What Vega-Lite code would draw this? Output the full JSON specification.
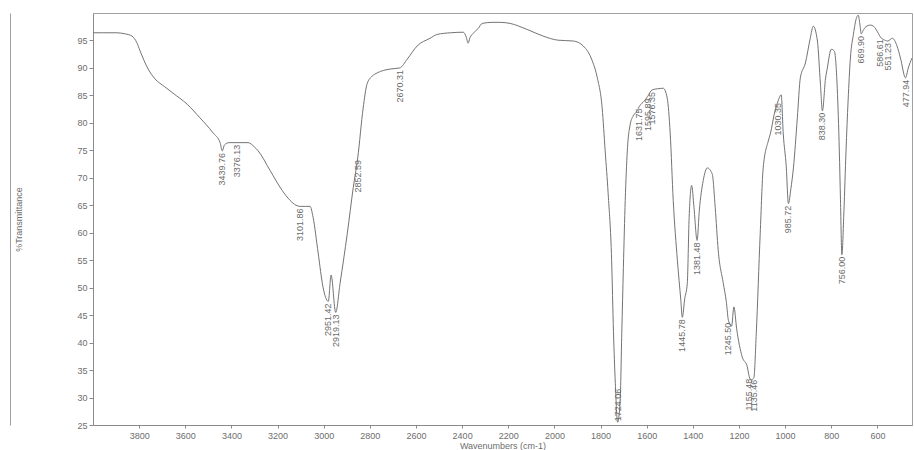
{
  "$schema": "https://vega.github.io/schema/vega-lite/v6.json",
  "width": 819,
  "height": 412,
  "autosize": {"type": "none"},
  "padding": {"left": 93, "top": 13, "right": 2, "bottom": 25},
  "background": "white",
  "config": {
    "view": {"stroke": "#a0a0a0", "strokeWidth": 1},
    "axis": {
      "domainColor": "#8a8a8a",
      "tickColor": "#8a8a8a",
      "labelColor": "#6e6e6e",
      "titleColor": "#6e6e6e",
      "labelFont": "Liberation Sans",
      "titleFont": "Liberation Sans",
      "labelFontSize": 9,
      "titleFontSize": 9,
      "titleFontWeight": "normal",
      "grid": false
    }
  },
  "data": {
    "values": [
      {"wn": 4000, "t": 96.4},
      {"wn": 3960, "t": 96.4},
      {"wn": 3900, "t": 96.4},
      {"wn": 3860, "t": 96.2},
      {"wn": 3831, "t": 95.8},
      {"wn": 3810, "t": 94.6},
      {"wn": 3796, "t": 93.1},
      {"wn": 3761, "t": 89.8},
      {"wn": 3731, "t": 88.0},
      {"wn": 3690, "t": 86.6},
      {"wn": 3653, "t": 85.4},
      {"wn": 3592, "t": 83.4},
      {"wn": 3536, "t": 80.9},
      {"wn": 3480, "t": 78.2},
      {"wn": 3449, "t": 76.4},
      {"wn": 3439.76, "t": 74.9, "label": "3439.76"},
      {"wn": 3430, "t": 76.0},
      {"wn": 3410, "t": 76.4},
      {"wn": 3376.13, "t": 76.4, "label": "3376.13"},
      {"wn": 3328, "t": 76.4},
      {"wn": 3300, "t": 75.6},
      {"wn": 3284, "t": 74.9},
      {"wn": 3232, "t": 71.3},
      {"wn": 3180, "t": 67.7},
      {"wn": 3146, "t": 65.9},
      {"wn": 3120, "t": 65.0},
      {"wn": 3101.86, "t": 64.8, "label": "3101.86"},
      {"wn": 3080, "t": 64.8},
      {"wn": 3059, "t": 64.8},
      {"wn": 3046, "t": 62.8},
      {"wn": 3024, "t": 56.3},
      {"wn": 3003, "t": 50.1},
      {"wn": 2980, "t": 47.5, "label": "2951.42"},
      {"wn": 2968, "t": 52.3},
      {"wn": 2948, "t": 45.5, "label": "2919.13"},
      {"wn": 2929, "t": 50.8},
      {"wn": 2898, "t": 59.8},
      {"wn": 2872, "t": 68.2},
      {"wn": 2852.59, "t": 73.6, "label": "2852.59"},
      {"wn": 2829, "t": 82.7},
      {"wn": 2812, "t": 87.1},
      {"wn": 2790, "t": 88.5},
      {"wn": 2768, "t": 89.1},
      {"wn": 2712, "t": 89.8},
      {"wn": 2670.31, "t": 90.0, "label": "2670.31"},
      {"wn": 2638, "t": 91.6},
      {"wn": 2595, "t": 94.0},
      {"wn": 2539, "t": 95.4},
      {"wn": 2508, "t": 96.1},
      {"wn": 2450, "t": 96.4},
      {"wn": 2395, "t": 96.5},
      {"wn": 2382, "t": 95.6},
      {"wn": 2374, "t": 94.5},
      {"wn": 2366, "t": 95.5},
      {"wn": 2352, "t": 96.3},
      {"wn": 2330, "t": 97.2},
      {"wn": 2313, "t": 98.1},
      {"wn": 2270, "t": 98.3},
      {"wn": 2235, "t": 98.3},
      {"wn": 2192, "t": 98.1},
      {"wn": 2118, "t": 97.0},
      {"wn": 2049, "t": 95.8},
      {"wn": 1984, "t": 95.05},
      {"wn": 1918, "t": 94.9},
      {"wn": 1875, "t": 94.0},
      {"wn": 1836, "t": 91.3},
      {"wn": 1814, "t": 88.2},
      {"wn": 1793, "t": 82.7},
      {"wn": 1780, "t": 74.9},
      {"wn": 1767, "t": 67.1},
      {"wn": 1752, "t": 55.0},
      {"wn": 1744, "t": 42.0},
      {"wn": 1736, "t": 32.6},
      {"wn": 1726, "t": 25.5, "label": "1724.06"},
      {"wn": 1715, "t": 29.4},
      {"wn": 1708, "t": 41.7},
      {"wn": 1701, "t": 53.7},
      {"wn": 1693, "t": 65.9},
      {"wn": 1684, "t": 74.9},
      {"wn": 1671, "t": 79.8},
      {"wn": 1658, "t": 81.3},
      {"wn": 1641, "t": 82.2},
      {"wn": 1631.75, "t": 83.0, "label": "1631.75"},
      {"wn": 1610, "t": 84.0},
      {"wn": 1595.89, "t": 84.8, "label": "1595.89"},
      {"wn": 1576.35, "t": 86.0, "label": "1576.35"},
      {"wn": 1554, "t": 86.2},
      {"wn": 1528, "t": 86.3},
      {"wn": 1511, "t": 84.5},
      {"wn": 1498, "t": 78.0},
      {"wn": 1485, "t": 65.9},
      {"wn": 1467, "t": 55.0},
      {"wn": 1452, "t": 47.7},
      {"wn": 1445.78, "t": 44.6, "label": "1445.78"},
      {"wn": 1435, "t": 48.0},
      {"wn": 1424, "t": 50.8},
      {"wn": 1416, "t": 62.8},
      {"wn": 1405, "t": 68.6},
      {"wn": 1395, "t": 64.6},
      {"wn": 1381.48, "t": 58.6, "label": "1381.48"},
      {"wn": 1372, "t": 64.0},
      {"wn": 1355, "t": 69.5},
      {"wn": 1337, "t": 71.8},
      {"wn": 1316, "t": 70.7},
      {"wn": 1303, "t": 64.6},
      {"wn": 1290, "t": 56.8},
      {"wn": 1268, "t": 50.8},
      {"wn": 1255, "t": 47.5},
      {"wn": 1245.5, "t": 44.0, "label": "1245.50"},
      {"wn": 1232, "t": 43.0},
      {"wn": 1222, "t": 46.5},
      {"wn": 1210, "t": 42.5},
      {"wn": 1186, "t": 37.4},
      {"wn": 1164, "t": 35.6},
      {"wn": 1155.48, "t": 33.8, "label": "1155.48"},
      {"wn": 1147, "t": 33.2},
      {"wn": 1135.46, "t": 33.6, "label": "1135.46"},
      {"wn": 1125, "t": 41.7},
      {"wn": 1108, "t": 59.8},
      {"wn": 1095, "t": 71.8},
      {"wn": 1073, "t": 76.7},
      {"wn": 1064, "t": 78.0},
      {"wn": 1045, "t": 82.0},
      {"wn": 1030.35, "t": 84.0, "label": "1030.35"},
      {"wn": 1017, "t": 85.1},
      {"wn": 1008, "t": 78.0},
      {"wn": 995, "t": 72.0},
      {"wn": 985.72, "t": 65.3, "label": "985.72"},
      {"wn": 975, "t": 68.0},
      {"wn": 964, "t": 71.8},
      {"wn": 947, "t": 80.9},
      {"wn": 934, "t": 88.2},
      {"wn": 912, "t": 90.9},
      {"wn": 891, "t": 95.4},
      {"wn": 878, "t": 97.6},
      {"wn": 860, "t": 94.9},
      {"wn": 847, "t": 87.1},
      {"wn": 838.3, "t": 82.2, "label": "838.30"},
      {"wn": 825, "t": 88.0},
      {"wn": 817, "t": 90.0},
      {"wn": 800, "t": 93.4},
      {"wn": 787, "t": 93.1},
      {"wn": 774, "t": 86.3},
      {"wn": 765, "t": 74.9},
      {"wn": 760, "t": 66.0},
      {"wn": 754, "t": 56.0, "label": "756.00"},
      {"wn": 745, "t": 64.0},
      {"wn": 736, "t": 74.9},
      {"wn": 727, "t": 84.0},
      {"wn": 717, "t": 91.8},
      {"wn": 704, "t": 96.1},
      {"wn": 690, "t": 99.2},
      {"wn": 683, "t": 99.6},
      {"wn": 676, "t": 98.0},
      {"wn": 669.9, "t": 96.2, "label": "669.90"},
      {"wn": 662, "t": 96.8},
      {"wn": 650, "t": 97.5},
      {"wn": 630, "t": 97.8},
      {"wn": 617, "t": 97.6},
      {"wn": 596, "t": 96.3},
      {"wn": 586.61, "t": 95.6, "label": "586.61"},
      {"wn": 574, "t": 95.2},
      {"wn": 555, "t": 94.9, "label": "551.23"},
      {"wn": 535, "t": 95.4},
      {"wn": 515, "t": 94.0},
      {"wn": 500, "t": 91.8},
      {"wn": 477.94, "t": 88.2, "label": "477.94"},
      {"wn": 466, "t": 90.0},
      {"wn": 450, "t": 91.8}
    ]
  },
  "resolve": {"axis": {"y": "independent"}},
  "layer": [
    {
      "mark": {"type": "line", "color": "#737373", "strokeWidth": 1, "interpolate": "monotone", "clip": true},
      "encoding": {
        "x": {
          "field": "wn", "type": "quantitative",
          "scale": {"domain": [4000, 450], "nice": false, "zero": false},
          "axis": {
            "title": "Wavenumbers (cm-1)",
            "values": [3800, 3600, 3400, 3200, 3000, 2800, 2600, 2400, 2200, 2000, 1800, 1600, 1400, 1200, 1000, 800, 600],
            "format": "d",
            "tickSize": 3,
            "labelPadding": 3,
            "titlePadding": 1
          }
        },
        "y": {
          "field": "t", "type": "quantitative",
          "scale": {"domain": [25, 100], "nice": false, "zero": false},
          "axis": {
            "title": "%Transmittance",
            "values": [25, 30, 35, 40, 45, 50, 55, 60, 65, 70, 75, 80, 85, 90, 95],
            "tickSize": 4,
            "labelPadding": 2,
            "titlePadding": 53
          }
        }
      }
    },
    {
      "transform": [{"filter": "datum.label != null && datum.t >= 28"}],
      "mark": {"type": "text", "angle": 270, "align": "right", "baseline": "middle", "dx": -2, "font": "Liberation Sans", "fontSize": 9, "color": "#6a6a6a"},
      "encoding": {
        "x": {"field": "wn", "type": "quantitative"},
        "y": {
          "field": "t", "type": "quantitative",
          "axis": {"orient": "left", "offset": 83, "labels": false, "ticks": false, "title": null, "domainColor": "#a0a0a0"}
        },
        "text": {"field": "label"}
      }
    },
    {
      "transform": [{"filter": "datum.label != null && datum.t < 28"}],
      "mark": {"type": "text", "angle": 270, "align": "left", "baseline": "middle", "dx": 1, "font": "Liberation Sans", "fontSize": 9, "color": "#6a6a6a"},
      "encoding": {
        "x": {"field": "wn", "type": "quantitative"},
        "y": {"field": "t", "type": "quantitative", "axis": null},
        "text": {"field": "label"}
      }
    }
  ]
}
